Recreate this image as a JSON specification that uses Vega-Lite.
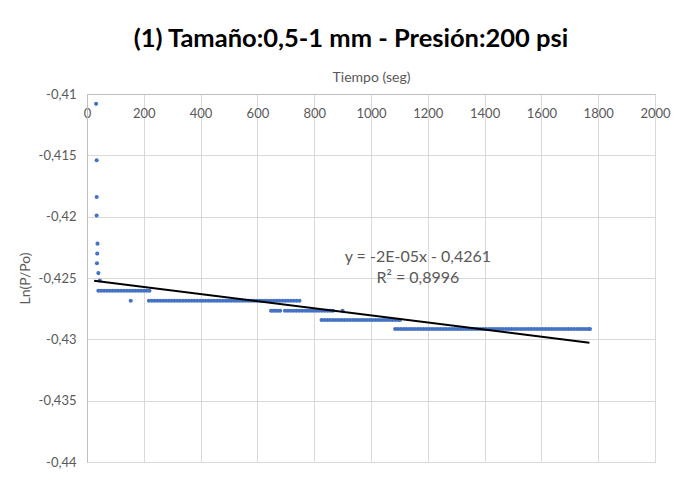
{
  "$schema": "https://vega.github.io/schema/vega-lite/v6.json",
  "width": 568,
  "height": 368,
  "autosize": "none",
  "padding": {"left": 87, "top": 94, "right": 24, "bottom": 19},
  "background": "white",
  "title": {"text": "(1) Tamaño:0,5-1 mm - Presión:200 psi", "font": "Lato", "fontSize": 25.5, "fontWeight": "bold", "color": "#000000", "anchor": "middle", "dx": -20, "offset": 18},
  "config": {
    "locale": {"number": {"decimal": ",", "thousands": ".", "grouping": [3], "currency": ["", "€"], "minus": "-"}},
    "view": {"stroke": "#d9d9d9"},
    "axis": {"labelFont": "Lato", "titleFont": "Lato", "labelColor": "#595959", "titleColor": "#595959", "labelFontSize": 13, "titleFontSize": 14, "titleFontWeight": "normal", "gridColor": "#d9d9d9", "domainColor": "#bfbfbf", "ticks": false}
  },
  "datasets": {
    "pts": [
      {"t":32,"v":-0.4108},{"t":34,"v":-0.4154},{"t":34,"v":-0.4184},{"t":34,"v":-0.4199},{"t":37,"v":-0.4222},{"t":36,"v":-0.4230},{"t":35,"v":-0.4238},{"t":40,"v":-0.4246},{"t":45,"v":-0.4252},
      {"t":40,"v":-0.42604},{"t":50,"v":-0.42604},{"t":60,"v":-0.42604},{"t":70,"v":-0.42604},{"t":80,"v":-0.42604},{"t":90,"v":-0.42604},{"t":100,"v":-0.42604},{"t":110,"v":-0.42604},{"t":120,"v":-0.42604},{"t":130,"v":-0.42604},{"t":140,"v":-0.42604},{"t":150,"v":-0.42604},{"t":160,"v":-0.42604},{"t":170,"v":-0.42604},{"t":180,"v":-0.42604},{"t":190,"v":-0.42604},{"t":200,"v":-0.42604},{"t":210,"v":-0.42604},{"t":220,"v":-0.42604},
      {"t":154,"v":-0.42685},{"t":218,"v":-0.42685},{"t":228,"v":-0.42685},{"t":238,"v":-0.42685},{"t":248,"v":-0.42685},{"t":258,"v":-0.42685},{"t":268,"v":-0.42685},{"t":278,"v":-0.42685},{"t":288,"v":-0.42685},{"t":298,"v":-0.42685},{"t":308,"v":-0.42685},{"t":318,"v":-0.42685},{"t":328,"v":-0.42685},{"t":338,"v":-0.42685},{"t":348,"v":-0.42685},{"t":358,"v":-0.42685},{"t":368,"v":-0.42685},{"t":378,"v":-0.42685},{"t":388,"v":-0.42685},{"t":398,"v":-0.42685},{"t":408,"v":-0.42685},{"t":418,"v":-0.42685},{"t":428,"v":-0.42685},{"t":438,"v":-0.42685},{"t":448,"v":-0.42685},{"t":458,"v":-0.42685},{"t":468,"v":-0.42685},{"t":478,"v":-0.42685},{"t":488,"v":-0.42685},{"t":498,"v":-0.42685},{"t":508,"v":-0.42685},{"t":518,"v":-0.42685},{"t":528,"v":-0.42685},{"t":538,"v":-0.42685},{"t":548,"v":-0.42685},{"t":558,"v":-0.42685},{"t":568,"v":-0.42685},{"t":578,"v":-0.42685},{"t":588,"v":-0.42685},{"t":598,"v":-0.42685},{"t":608,"v":-0.42685},{"t":618,"v":-0.42685},{"t":628,"v":-0.42685},{"t":638,"v":-0.42685},{"t":648,"v":-0.42685},{"t":658,"v":-0.42685},{"t":668,"v":-0.42685},{"t":678,"v":-0.42685},{"t":688,"v":-0.42685},{"t":698,"v":-0.42685},{"t":708,"v":-0.42685},{"t":718,"v":-0.42685},{"t":728,"v":-0.42685},{"t":738,"v":-0.42685},{"t":748,"v":-0.42685},
      {"t":648,"v":-0.42767},{"t":656,"v":-0.42767},{"t":664,"v":-0.42767},{"t":672,"v":-0.42767},{"t":680,"v":-0.42767},{"t":697,"v":-0.42767},{"t":707,"v":-0.42767},{"t":717,"v":-0.42767},{"t":727,"v":-0.42767},{"t":737,"v":-0.42767},{"t":747,"v":-0.42767},{"t":757,"v":-0.42767},{"t":767,"v":-0.42767},{"t":777,"v":-0.42767},{"t":787,"v":-0.42767},{"t":797,"v":-0.42767},{"t":807,"v":-0.42767},{"t":817,"v":-0.42767},{"t":827,"v":-0.42767},{"t":837,"v":-0.42767},{"t":847,"v":-0.42767},{"t":857,"v":-0.42767},{"t":866,"v":-0.42767},{"t":900,"v":-0.42767},
      {"t":826,"v":-0.42842},{"t":836,"v":-0.42842},{"t":846,"v":-0.42842},{"t":856,"v":-0.42842},{"t":866,"v":-0.42842},{"t":876,"v":-0.42842},{"t":886,"v":-0.42842},{"t":896,"v":-0.42842},{"t":906,"v":-0.42842},{"t":916,"v":-0.42842},{"t":926,"v":-0.42842},{"t":936,"v":-0.42842},{"t":946,"v":-0.42842},{"t":956,"v":-0.42842},{"t":966,"v":-0.42842},{"t":976,"v":-0.42842},{"t":986,"v":-0.42842},{"t":996,"v":-0.42842},{"t":1006,"v":-0.42842},{"t":1016,"v":-0.42842},{"t":1026,"v":-0.42842},{"t":1036,"v":-0.42842},{"t":1046,"v":-0.42842},{"t":1056,"v":-0.42842},{"t":1066,"v":-0.42842},{"t":1076,"v":-0.42842},{"t":1086,"v":-0.42842},{"t":1096,"v":-0.42842},{"t":1102,"v":-0.42842},
      {"t":1085,"v":-0.42916},{"t":1095,"v":-0.42916},{"t":1105,"v":-0.42916},{"t":1115,"v":-0.42916},{"t":1125,"v":-0.42916},{"t":1135,"v":-0.42916},{"t":1145,"v":-0.42916},{"t":1155,"v":-0.42916},{"t":1165,"v":-0.42916},{"t":1175,"v":-0.42916},{"t":1185,"v":-0.42916},{"t":1195,"v":-0.42916},{"t":1205,"v":-0.42916},{"t":1215,"v":-0.42916},{"t":1225,"v":-0.42916},{"t":1235,"v":-0.42916},{"t":1245,"v":-0.42916},{"t":1255,"v":-0.42916},{"t":1265,"v":-0.42916},{"t":1275,"v":-0.42916},{"t":1285,"v":-0.42916},{"t":1295,"v":-0.42916},{"t":1305,"v":-0.42916},{"t":1315,"v":-0.42916},{"t":1325,"v":-0.42916},{"t":1335,"v":-0.42916},{"t":1345,"v":-0.42916},{"t":1355,"v":-0.42916},{"t":1365,"v":-0.42916},{"t":1375,"v":-0.42916},{"t":1385,"v":-0.42916},{"t":1395,"v":-0.42916},{"t":1405,"v":-0.42916},{"t":1415,"v":-0.42916},{"t":1425,"v":-0.42916},{"t":1435,"v":-0.42916},{"t":1445,"v":-0.42916},{"t":1455,"v":-0.42916},{"t":1465,"v":-0.42916},{"t":1475,"v":-0.42916},{"t":1485,"v":-0.42916},{"t":1495,"v":-0.42916},{"t":1505,"v":-0.42916},{"t":1515,"v":-0.42916},{"t":1525,"v":-0.42916},{"t":1535,"v":-0.42916},{"t":1545,"v":-0.42916},{"t":1555,"v":-0.42916},{"t":1565,"v":-0.42916},{"t":1575,"v":-0.42916},{"t":1585,"v":-0.42916},{"t":1595,"v":-0.42916},{"t":1605,"v":-0.42916},{"t":1615,"v":-0.42916},{"t":1625,"v":-0.42916},{"t":1635,"v":-0.42916},{"t":1645,"v":-0.42916},{"t":1655,"v":-0.42916},{"t":1665,"v":-0.42916},{"t":1675,"v":-0.42916},{"t":1685,"v":-0.42916},{"t":1695,"v":-0.42916},{"t":1705,"v":-0.42916},{"t":1715,"v":-0.42916},{"t":1725,"v":-0.42916},{"t":1735,"v":-0.42916},{"t":1745,"v":-0.42916},{"t":1755,"v":-0.42916},{"t":1765,"v":-0.42916},{"t":1771,"v":-0.42916}
    ],
    "trend": [{"t": 25, "v": -0.42522}, {"t": 1769, "v": -0.43028}],
    "lbl": [{"t": 1165, "v": -0.42326, "s": "y = -2E-05x - 0,4261"}, {"t": 1165, "v": -0.42498, "s": "R² = 0,8996"}]
  },
  "encoding": {
    "x": {"field": "t", "type": "quantitative", "scale": {"domain": [0, 2000], "nice": false, "zero": false},
      "axis": {"orient": "top", "title": "Tiempo (seg)", "values": [0,200,400,600,800,1000,1200,1400,1600,1800,2000], "format": "d", "labelBaseline": "middle", "labelPadding": -19, "labelFlush": false, "labelOverlap": false, "titlePadding": 10, "grid": true, "domain": true}},
    "y": {"field": "v", "type": "quantitative", "scale": {"domain": [-0.44, -0.41], "nice": false, "zero": false},
      "axis": {"title": "Ln(P/Po)", "values": [-0.44,-0.435,-0.43,-0.425,-0.42,-0.415,-0.41], "format": ".3~f", "labelPadding": 11, "titlePadding": 6, "grid": true}}
  },
  "layer": [
    {"data": {"name": "pts"}, "mark": {"type": "circle", "color": "#4472C4", "size": 17, "opacity": 1}},
    {"data": {"name": "trend"}, "mark": {"type": "line", "color": "#000000", "strokeWidth": 2}},
    {"data": {"name": "lbl"}, "mark": {"type": "text", "font": "Lato", "fontSize": 16, "color": "#595959", "align": "center", "baseline": "middle"}, "encoding": {"text": {"field": "s"}}}
  ]
}
